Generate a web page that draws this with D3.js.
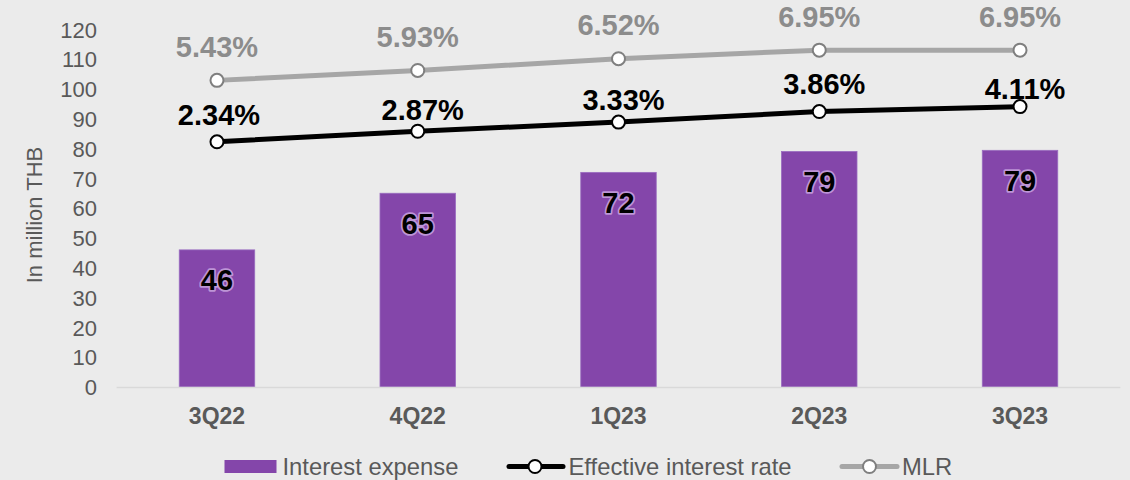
<!DOCTYPE html>
<html>
<head>
<meta charset="utf-8">
<script src="https://cdn.jsdelivr.net/npm/d3@7/dist/d3.min.js"></script>
<style>
  html, body { margin: 0; padding: 0; background: #ebebeb; }
  svg { display: block; font-family: "Liberation Sans", Arial, sans-serif; }
</style>
</head>
<body>
<svg id="chart" width="1130" height="480"></svg>
<script>
// ---- data ----
const categories = ["3Q22", "4Q22", "1Q23", "2Q23", "3Q23"];
const interestExpense = [46, 65, 72, 79, 79.4];
const effectiveRate = [2.34, 2.87, 3.33, 3.86, 4.11];
const mlrRate = [5.43, 5.93, 6.52, 6.95, 6.95];
const yTicks = [0, 10, 20, 30, 40, 50, 60, 70, 80, 90, 100, 110, 120];
const seriesNames = ["Interest expense", "Effective interest rate", "MLR"];
const yTitle = "In million THB";
// label nudges (layout only)
const effLabelDy = [-27.5, -22, -22.5, -28, -18.5];
const effLabelDx = [2, 5, 5, 5, 5];

const W = 1130, H = 480;
const svg = d3.select("#chart");
svg.append("rect").attr("width", W).attr("height", H).attr("fill", "#ebebeb");

const x = d3.scaleBand().domain(categories).range([116.6, 1120.4])
  .paddingInner(0.624).paddingOuter(0.312);
const y = d3.scaleLinear().domain([0, 120]).range([387, 29.3]);
const yR = d3.scaleLinear().domain([-10, 8]).range([387, 29.3]);
const cx = c => x(c) + x.bandwidth() / 2;

const purple = "#8446aa";
const gray = "#595959";

// y axis
const yAxis = svg.append("g").attr("transform", "translate(97,0)")
  .call(d3.axisLeft(y).tickValues(yTicks).tickSize(0).tickPadding(0));
yAxis.select(".domain").remove();
yAxis.selectAll("text").attr("fill", gray).style("font-size", "22px")
  .style("font-family", "'Liberation Sans', Arial, sans-serif").attr("dy", "0.35em");

svg.append("text").attr("transform", "translate(42,215) rotate(-90)")
  .attr("text-anchor", "middle").attr("fill", gray).style("font-size", "22px")
  .text(yTitle);

// bars
svg.append("g").selectAll("rect").data(interestExpense).join("rect")
  .attr("x", (d, i) => x(categories[i]))
  .attr("width", x.bandwidth())
  .attr("y", d => y(d))
  .attr("height", d => y(0) - y(d))
  .attr("fill", purple)
  .attr("stroke", "#9a6cc0").attr("stroke-width", 0.8);

// baseline
svg.append("line").attr("x1", 116.6).attr("x2", 1120.4)
  .attr("y1", y(0) + 0.5).attr("y2", y(0) + 0.5)
  .attr("stroke", "#d9d9d9").attr("stroke-width", 1.5);

// x axis
const xAxis = svg.append("g").attr("transform", `translate(0,${y(0)})`)
  .call(d3.axisBottom(x).tickSize(0).tickPadding(0));
xAxis.select(".domain").remove();
xAxis.selectAll("text").attr("fill", gray).style("font-size", "23px")
  .style("font-weight", "bold").style("font-family", "'Liberation Sans', Arial, sans-serif")
  .attr("y", 29).attr("dy", "0.35em");

// bar labels
svg.append("g").selectAll("text").data(interestExpense).join("text")
  .attr("x", (d, i) => cx(categories[i]))
  .attr("y", d => y(d) + 30)
  .attr("dy", "0.36em")
  .attr("text-anchor", "middle")
  .style("font-size", "29px").style("font-weight", "bold")
  .attr("fill", "#000")
  .attr("stroke", "rgba(215,185,235,0.7)").attr("stroke-width", 3.5)
  .attr("paint-order", "stroke").attr("stroke-linejoin", "round")
  .text(d => d3.format(".0f")(d));

// lines
function drawLine(vals, color, markerStroke) {
  const line = d3.line().x((d, i) => cx(categories[i])).y(d => yR(d));
  svg.append("path").datum(vals).attr("d", line)
    .attr("fill", "none").attr("stroke", color).attr("stroke-width", 5)
    .attr("stroke-linejoin", "round");
  svg.append("g").selectAll("circle").data(vals).join("circle")
    .attr("cx", (d, i) => cx(categories[i])).attr("cy", d => yR(d))
    .attr("r", 6.5).attr("fill", "#fff")
    .attr("stroke", markerStroke).attr("stroke-width", 2);
}
drawLine(mlrRate, "#a6a6a6", "#7f7f7f");
drawLine(effectiveRate, "#000", "#000");

// MLR labels
svg.append("g").selectAll("text").data(mlrRate).join("text")
  .attr("x", (d, i) => cx(categories[i]))
  .attr("y", d => yR(d) - 34).attr("dy", "0.36em")
  .attr("text-anchor", "middle").attr("fill", "#8c8c8c")
  .style("font-size", "29px").style("font-weight", "bold")
  .text(d => d3.format(".2f")(d) + "%");

// Effective labels
svg.append("g").selectAll("text").data(effectiveRate).join("text")
  .attr("x", (d, i) => cx(categories[i]) + effLabelDx[i])
  .attr("y", (d, i) => yR(d) + effLabelDy[i]).attr("dy", "0.36em")
  .attr("text-anchor", "middle").attr("fill", "#000")
  .style("font-size", "29px").style("font-weight", "bold")
  .text(d => d3.format(".2f")(d) + "%");

// legend
const lg = svg.append("g").attr("transform", "translate(0,466.5)");
const legFont = "23.8px";
lg.append("rect").attr("x", 224.5).attr("y", -6.5).attr("width", 52).attr("height", 13).attr("fill", purple);
lg.append("text").attr("x", 282.5).attr("dy", "0.35em").attr("fill", gray)
  .style("font-size", legFont).text(seriesNames[0]);

lg.append("line").attr("x1", 509).attr("x2", 563).attr("stroke", "#000").attr("stroke-width", 5).attr("stroke-linecap", "round");
lg.append("circle").attr("cx", 535).attr("r", 6.5).attr("fill", "#fff").attr("stroke", "#000").attr("stroke-width", 2);
lg.append("text").attr("x", 568.5).attr("dy", "0.35em").attr("fill", gray)
  .style("font-size", legFont).text(seriesNames[1]);

lg.append("line").attr("x1", 842).attr("x2", 897).attr("stroke", "#a6a6a6").attr("stroke-width", 5).attr("stroke-linecap", "round");
lg.append("circle").attr("cx", 869.5).attr("r", 6.5).attr("fill", "#fff").attr("stroke", "#7f7f7f").attr("stroke-width", 2);
lg.append("text").attr("x", 902).attr("dy", "0.35em").attr("fill", gray)
  .style("font-size", legFont).text(seriesNames[2]);
</script>
</body>
</html>
